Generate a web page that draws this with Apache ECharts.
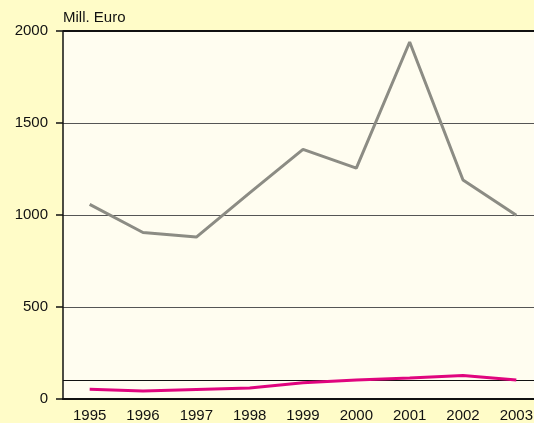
<!DOCTYPE html>
<html>
<head>
<meta charset="utf-8">
<script src="https://cdn.jsdelivr.net/npm/echarts@6/dist/echarts.min.js"></script>
<style>
  html, body { margin: 0; padding: 0; background: #fffcc8; }
  #chart { width: 534px; height: 423px; }
</style>
</head>
<body>
<div id="chart"></div>
<script>
// Jahre
const years = ["1995", "1996", "1997", "1998", "1999", "2000", "2001", "2002", "2003"];
// graue Linie
const greySeries = [1058, 905, 880, 1120, 1357, 1255, 1940, 1190, 998];
// pinke Linie
const pinkSeries = [53, 43, 52, 60, 88, 103, 114, 128, 103];
const refValue = 100;
const topValue = 2000;

const chart = echarts.init(document.getElementById("chart"));

chart.setOption({
  backgroundColor: "#fffcc8",
  animation: false,
  textStyle: { fontFamily: "Liberation Sans, Arial, sans-serif" },
  grid: {
    left: 63,
    top: 31,
    width: 480,
    height: 368,
    show: true,
    backgroundColor: "#fffdf0",
    borderWidth: 0,
    containLabel: false,
    outerBoundsMode: "none"
  },
  xAxis: {
    type: "category",
    data: years,
    boundaryGap: true,
    axisLine: { lineStyle: { color: "#111", width: 2 } },
    axisTick: { show: false },
    axisLabel: { color: "#111", fontSize: 15, margin: 9 }
  },
  yAxis: {
    type: "value",
    min: 0,
    max: topValue,
    interval: 500,
    name: "Mill. Euro",
    nameLocation: "end",
    nameGap: 6,
    nameTextStyle: { color: "#111", fontSize: 15, align: "left", padding: [0, 0, 0, 0] },
    axisLine: { show: true, lineStyle: { color: "#111", width: 1.5 } },
    axisTick: { show: true, length: 7, lineStyle: { color: "#111", width: 1.5 } },
    axisLabel: { color: "#111", fontSize: 15, margin: 15, formatter: v => String(v) },
    splitLine: { show: true, lineStyle: { color: "#555", width: 1 } }
  },
  series: [
    {
      type: "line",
      data: greySeries,
      symbol: "none",
      lineStyle: { color: "#8c8c84", width: 3 },
      z: 3,
      markLine: {
        silent: true,
        symbol: "none",
        label: { show: false },
        lineStyle: { color: "#111", width: 2, type: "solid" },
        data: [{ yAxis: topValue }]
      }
    },
    {
      type: "line",
      data: pinkSeries,
      symbol: "none",
      lineStyle: { color: "#e0057e", width: 3 },
      z: 4,
      markLine: {
        silent: true,
        symbol: "none",
        label: { show: false },
        lineStyle: { color: "#111", width: 1, type: "solid" },
        data: [{ yAxis: refValue }],
        z: 2
      }
    }
  ]
});
</script>
</body>
</html>
